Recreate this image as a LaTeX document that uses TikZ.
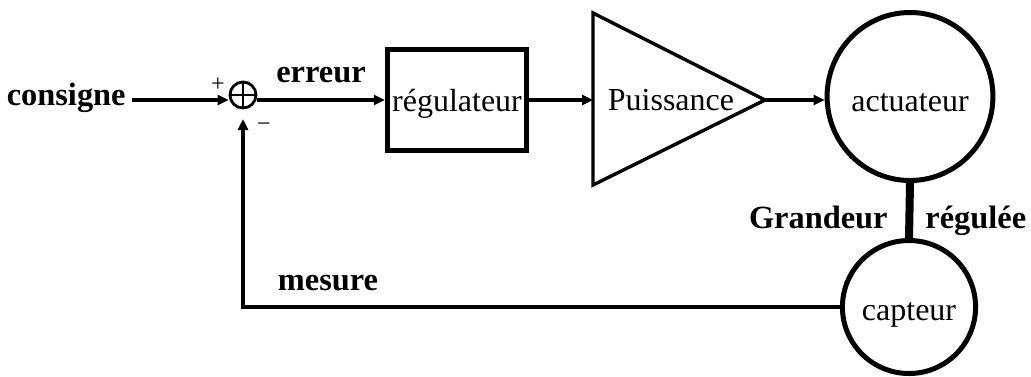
\documentclass[tikz,border=0pt]{standalone}
\usepackage{fontspec}
\setmainfont{Liberation Serif}
\usetikzlibrary{arrows.meta,shapes.geometric,calc}
\begin{document}
\begin{tikzpicture}[x=0.5pt,y=-0.5pt,
  lbl/.style={font=\fontsize{16.2}{19}\selectfont\bfseries,inner sep=0pt},
  txt/.style={font=\fontsize{16}{19}\selectfont,inner sep=0pt},
  sgn/.style={font=\fontsize{12}{14}\selectfont,inner sep=0pt},
  conn/.style={line width=2pt,-{Triangle[length=5.5pt,width=5pt]}},
  plain/.style={line width=2pt}]
\useasboundingbox (0,0) rectangle (1031,376);
% nodes
\node[lbl,anchor=base east] (consigne) at (126,105) {consigne};
\node[circle,draw,line width=1.4pt,minimum size=13pt,inner sep=0pt] (sum) at (243,95) {};
\draw[line width=1.4pt] (sum.north) -- (sum.south) (sum.west) -- (sum.east);
\node[sgn] (plus) at (218,85) {+};
\node[sgn] (minus) at (264,127) {\textminus};
\node[lbl,anchor=base] (erreur) at (321,82) {erreur};
\node[txt,draw,line width=2.7pt,minimum width=69.5pt,minimum height=50.5pt,text height=11pt,text depth=0pt] (reg) at (457,100) {régulateur};
\coordinate (trin) at (593,100);
\coordinate (trout) at (765,100);
\draw[line width=1.7pt,line join=miter] (593,13) -- (trout) -- (593,185) -- cycle;
\node[txt,anchor=base] (puis) at (671,110) {Puissance};
\node[txt,ellipse,draw,line width=2.5pt,minimum width=77pt,minimum height=84pt,text height=15pt,text depth=0pt] (act) at (910,96.5) {actuateur};
\node[txt,ellipse,draw,line width=2.5pt,minimum width=62pt,minimum height=66.5pt,text height=13pt,text depth=0pt] (cap) at (909,307) {capteur};
\node[lbl,anchor=base east] (grand) at (888,228) {Grandeur};
\node[lbl,anchor=base west] (regl) at (925,228) {régulée};
\node[lbl,anchor=base] (mesure) at (328,290) {mesure};
\coordinate (axis) at (0,100);
\coordinate (fbtip) at (243,119);
% connectors
\draw[conn] ([xshift=3pt]consigne.east |- axis) -- (axis -| sum.west);
\draw[conn] (axis -| sum.east) -- (reg.west);
\draw[conn] (reg.east) -- (trin);
\draw[conn] (trout) -- (trout -| act.west);
\draw[line width=4pt] (act.south) -- (cap.north);
\draw[conn] (cap.west) -| (fbtip);
\end{tikzpicture}
\end{document}
